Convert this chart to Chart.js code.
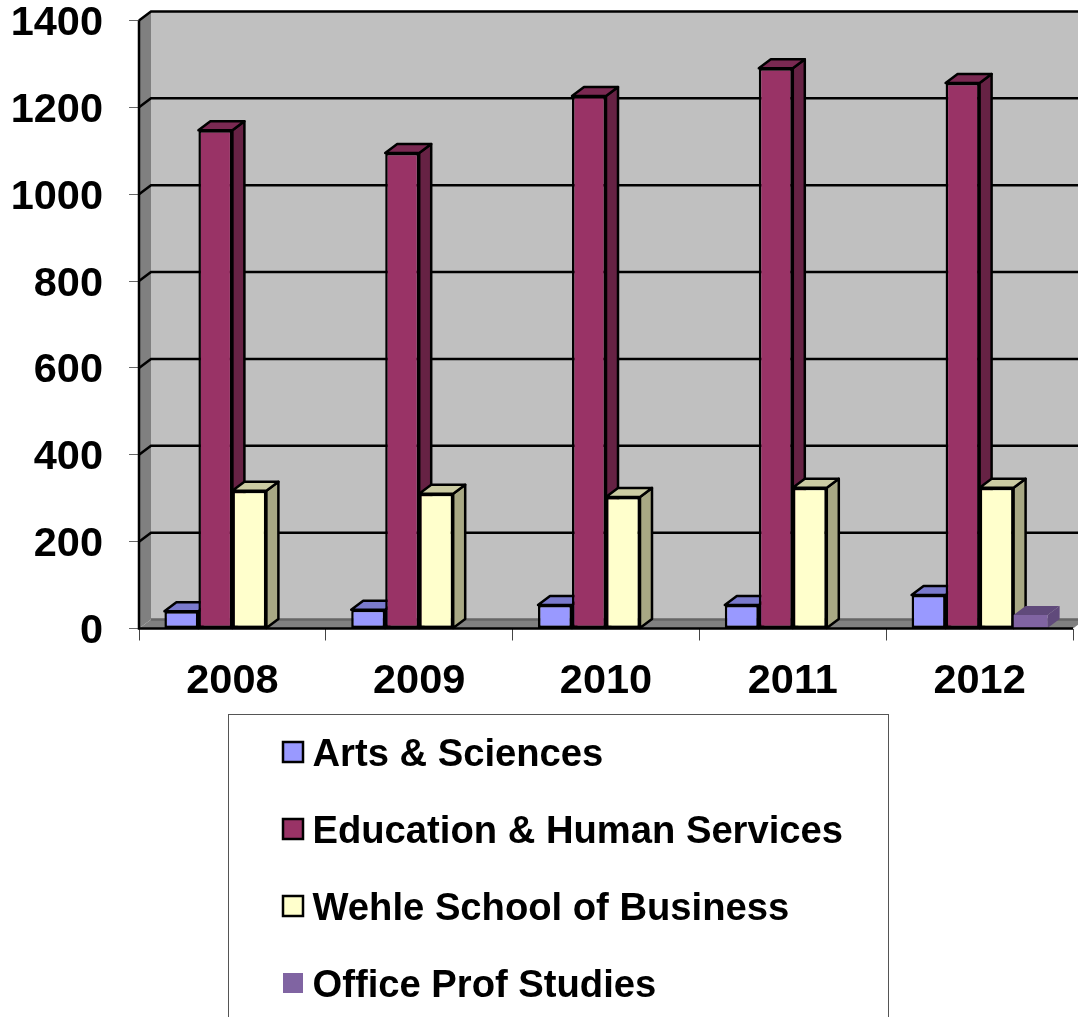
<!DOCTYPE html>
<html>
<head>
<meta charset="utf-8">
<style>
  html, body { margin: 0; padding: 0; background: #fff; overflow: hidden; }
  canvas { display: block; }
</style>
<script src="https://cdn.jsdelivr.net/npm/chart.js@4/dist/chart.umd.min.js"></script>
</head>
<body>
<canvas id="enrollment" width="1078" height="1017"></canvas>
<script>
const years = ["2008", "2009", "2010", "2011", "2012"];
const artsSciences = [40, 43, 54, 54, 77];
const eduHuman = [1147, 1095, 1226, 1290, 1256];
const wehleBusiness = [317, 310, 303, 324, 324];
const officeProf = [null, null, null, null, 31];

const FONT = '"Liberation Sans", Arial, sans-serif';
const DX = 12, DY = -9; // 3d depth of the walls and bars

// front, top, side colours of each series
const faces = [
  { front: "#9999ff", top: "#7a7acc", side: "#5c5c99", line: "#000" },
  { front: "#993366", top: "#7a2952", side: "#662244", line: "#000" },
  { front: "#ffffcc", top: "#cccca3", side: "#a8a884", line: "#000" },
  { front: "#8064a2", top: "#604a7b", side: "#604a7b", line: null },
];

function poly(ctx, pts, fill, stroke, lw) {
  ctx.beginPath();
  pts.forEach((p, i) => (i ? ctx.lineTo(p[0], p[1]) : ctx.moveTo(p[0], p[1])));
  ctx.closePath();
  ctx.fillStyle = fill;
  ctx.fill();
  if (stroke) {
    ctx.strokeStyle = stroke;
    ctx.lineWidth = lw;
    ctx.lineJoin = "round";
    ctx.stroke();
  }
}

const walls = {
  id: "walls",
  beforeDatasetsDraw(chart) {
    const ctx = chart.ctx;
    const { left, right, top, bottom } = chart.chartArea;
    const yScale = chart.scales.y;
    ctx.save();
    // back wall, side wall, floor
    poly(ctx, [[left + DX, top + DY], [right + DX, top + DY], [right + DX, bottom + DY], [left + DX, bottom + DY]], "#c0c0c0");
    poly(ctx, [[left, top], [left + DX, top + DY], [left + DX, bottom + DY], [left, bottom]], "#808080");
    poly(ctx, [[left, bottom], [left + DX, bottom + DY], [right + DX, bottom + DY], [right, bottom]], "#808080");

    // grid lines run over the side wall and the back wall
    ctx.lineWidth = 2.5;
    yScale.ticks.forEach((t) => {
      if (t.value === 0) return;
      const y = yScale.getPixelForValue(t.value);
      ctx.strokeStyle = "#000";
      ctx.beginPath();
      ctx.moveTo(left, y);
      ctx.lineTo(left + DX, y + DY);
      ctx.lineTo(right + DX, y + DY);
      ctx.stroke();
    });
    ctx.strokeStyle = "#666";
    ctx.beginPath();
    ctx.moveTo(left + DX, bottom + DY);
    ctx.lineTo(right + DX, bottom + DY);
    ctx.stroke();

    // bar tops and sides, left to right, fronts get drawn over them by the library
    years.forEach((_, i) => {
      chart.data.datasets.forEach((ds, d) => {
        const bar = chart.getDatasetMeta(d).data[i];
        if (ds.data[i] === null || !bar) return;
        const f = faces[d];
        const x0 = bar.x - bar.width / 2, x1 = bar.x + bar.width / 2;
        const y0 = bar.y, y1 = bar.base;
        poly(ctx, [[x1, y0], [x1 + DX, y0 + DY], [x1 + DX, y1 + DY], [x1, y1]], f.side, f.line, 2.5);
        poly(ctx, [[x0, y0], [x0 + DX, y0 + DY], [x1 + DX, y0 + DY], [x1, y0]], f.top, f.line, 2.5);
      });
    });
    ctx.restore();
  },
  afterDatasetsDraw(chart) {
    const ctx = chart.ctx;
    const { left, right, top, bottom } = chart.chartArea;
    ctx.save();
    ctx.strokeStyle = "#000";
    ctx.lineWidth = 2.5;
    ctx.beginPath();
    ctx.moveTo(left, top);
    ctx.lineTo(left, bottom);
    ctx.lineTo(right, bottom);
    ctx.stroke();
    ctx.restore();
  },
  afterDraw(chart) {
    // legend box runs off the bottom of the page like the original
    const ctx = chart.ctx;
    ctx.save();
    ctx.strokeStyle = "#555";
    ctx.lineWidth = 1;
    ctx.strokeRect(228.5, 714.5, 660, 320);
    ctx.font = "bold 38.2px " + FONT;
    ctx.textBaseline = "alphabetic";
    chart.data.datasets.forEach((ds, d) => {
      const rowY = 752 + d * 77;
      const f = faces[d];
      ctx.fillStyle = f.front;
      ctx.fillRect(283, rowY - 10, 20, 20);
      if (f.line) {
        ctx.strokeStyle = f.line;
        ctx.lineWidth = 2.5;
        ctx.strokeRect(283, rowY - 10, 20, 20);
      }
      ctx.fillStyle = "#000";
      ctx.fillText(ds.label, 312.5, rowY + 14);
    });
    ctx.restore();
  },
};

const series = [
  { label: "Arts & Sciences", data: artsSciences },
  { label: "Education & Human Services", data: eduHuman },
  { label: "Wehle School of Business", data: wehleBusiness },
  { label: "Office Prof Studies", data: officeProf },
];

function noScalePadding(scale) {
  scale.paddingTop = 0;
  scale.paddingBottom = 0;
  scale.paddingLeft = 0;
  scale.paddingRight = 0;
}

new Chart(document.querySelector("#enrollment").getContext("2d"), {
  type: "bar",
  data: {
    labels: years,
    datasets: series.map((s, d) => ({
      label: s.label,
      data: s.data,
      backgroundColor: faces[d].front,
      borderColor: faces[d].line || faces[d].front,
      borderWidth: faces[d].line ? 2.5 : 0,
      borderSkipped: false,
      barPercentage: 1,
      categoryPercentage: 0.728,
    })),
  },
  options: {
    responsive: false,
    animation: false,
    layout: { autoPadding: false, padding: { top: 20.5, right: 5, bottom: 303.5, left: 0 } },
    plugins: {
      legend: { display: false },
      tooltip: { enabled: false },
    },
    scales: {
      x: {
        afterFit(scale) { scale.height = 85; noScalePadding(scale); },
        grid: { drawOnChartArea: false, color: "#444", tickLength: 12, lineWidth: 1 },
        border: { display: false },
        ticks: { color: "#000", padding: 16, font: { family: FONT, size: 41.5, weight: "bold" }, maxRotation: 0 },
      },
      y: {
        min: 0,
        max: 1400,
        afterFit(scale) { scale.width = 139; noScalePadding(scale); },
        grid: { drawOnChartArea: false, color: "#666", tickLength: 10, lineWidth: 1 },
        border: { display: false },
        ticks: {
          stepSize: 200,
          color: "#000",
          padding: 26,
          labelOffset: 3,
          font: { family: FONT, size: 41.5, weight: "bold" },
          callback: (v) => String(v),
        },
      },
    },
  },
  plugins: [walls],
});
</script>
</body>
</html>
